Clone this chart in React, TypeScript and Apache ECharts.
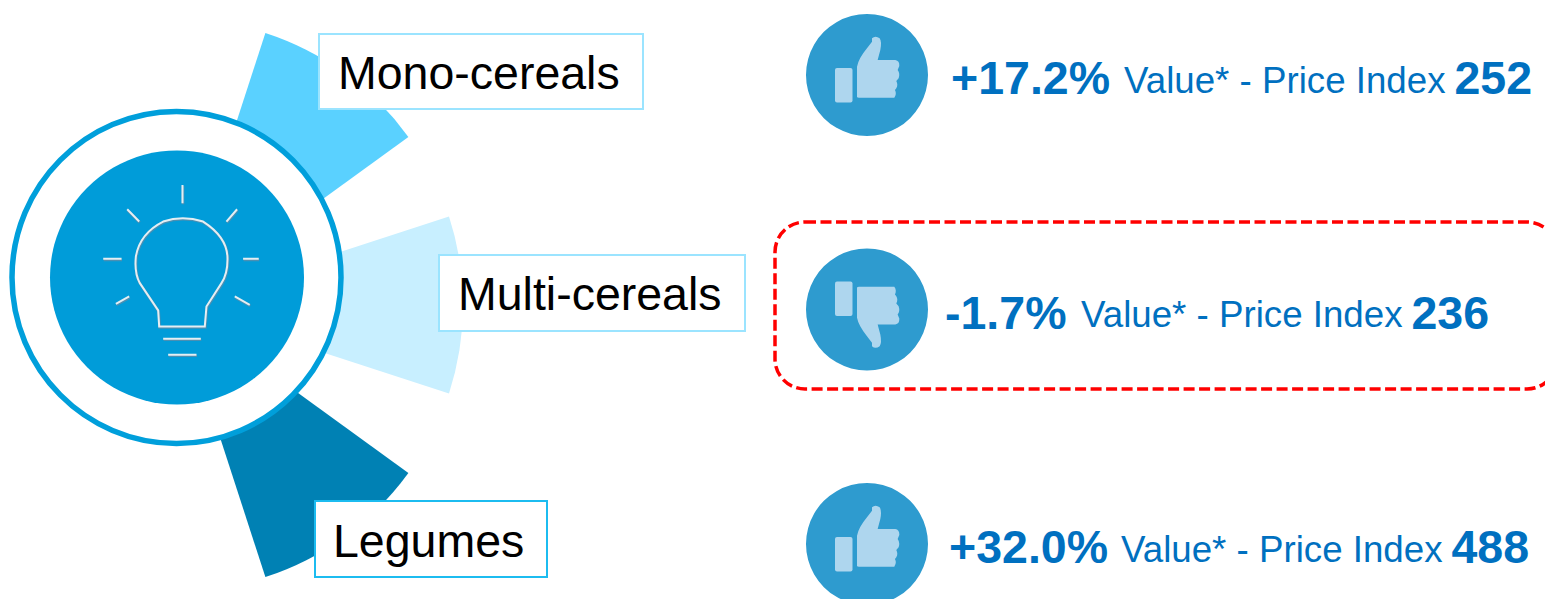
import React, { useEffect, useRef } from "react";
import * as echarts from "echarts";

const categories = ["Mono-cereals", "Multi-cereals", "Legumes"];
const sectorSpans = [36, 36, 36];
const gapSpans = [18, 18];
const changes = ["+17.2%", "-1.7%", "+32.0%"];
const priceIndices = ["252", "236", "488"];
const metricLabel = "Value* - Price Index";

const SANS = "'Liberation Sans', Arial, sans-serif";
const BLUE = "#0070c0";
const sectorColors = ["#5ad1ff", "#c8efff", "#0081b4"];

const HAND =
  "M-30 65 L-30 -25 Q-25 -50 0 -80 L15 -100 L15 -110 Q25 -120 38 -110 Q45 -100 40 -75 L32 -45 L85 -45 Q98 -43 97 -27 L92 -15 Q100 -5 95 10 L88 18 Q94 30 88 40 L84 45 Q90 57 82 68 L-24 68 Q-30 68 -30 65 Z";
const BULB =
  "M478 680 L475 632 L420 550 Q403 520 408 470 Q420 400 490 365 Q548 345 610 365 Q680 410 683 470 Q685 520 665 550 L620 620 L615 680 Z " +
  "M490 717 L603 717 M505 765 L590 765 M548 255 L548 310 M382 328 L418 365 M712 328 L680 365 " +
  "M310 477 L365 477 M730 477 L777 477 M348 612 L388 590 M705 590 L750 615";

echarts.graphic.registerShape("hand", echarts.graphic.extendPath(HAND as any, {}) as any);
echarts.graphic.registerShape("bulb", echarts.graphic.extendPath(BULB as any, {}) as any);

const labelBoxes = [
  { x: 319, y: 34, w: 324, h: 75, tx: 338, ty: 73, stroke: "#9be4ff" },
  { x: 439, y: 255, w: 306, h: 76, tx: 458, ty: 294, stroke: "#9be4ff" },
  { x: 315, y: 501, w: 232, h: 76, tx: 333, ty: 540.5, stroke: "#1cbcf0" },
];
const rows = [
  { cy: 75, flip: false, y: 78, x1: 951, x2: 1124, x3: 1454.5 },
  { cy: 309.5, flip: true, y: 312.5, x1: 945, x2: 1081, x3: 1411.5 },
  { cy: 544, flip: false, y: 547, x1: 949, x2: 1121, x3: 1451.5 },
];

function text(x: number, y: number, t: string, size: number, fill: string, bold = false) {
  return {
    type: "text",
    x,
    y,
    z: 30,
    silent: true,
    style: {
      text: t,
      fontSize: size,
      fontWeight: bold ? "bold" : "normal",
      fontFamily: SANS,
      fill,
      align: "left",
      verticalAlign: "middle",
    },
  };
}

function buildGraphics() {
  const els: any[] = [];
  // hub
  els.push({
    type: "ellipse", z: 10, silent: true,
    shape: { cx: 176.5, cy: 277.5, rx: 164.5, ry: 166 },
    style: { fill: "#ffffff", stroke: "#009fdb", lineWidth: 5.5 },
  });
  els.push({
    type: "circle", z: 11, silent: true,
    shape: { cx: 177, cy: 277.5, r: 127 },
    style: { fill: "#009cd9" },
  });
  els.push({
    type: "bulb", z: 12, silent: true, x: 0.5, y: 101, scaleX: 1 / 3, scaleY: 1 / 3,
    style: { fill: "none", stroke: "#4b8fb2", lineWidth: 8 },
  });
  els.push({
    type: "bulb", z: 13, silent: true, x: 0, y: 100, scaleX: 1 / 3, scaleY: 1 / 3,
    style: { fill: "none", stroke: "#e4eef3", lineWidth: 6 },
  });
  // category boxes
  categories.forEach((c, i) => {
    const b = labelBoxes[i];
    els.push({
      type: "rect", z: 20, silent: true,
      shape: { x: b.x, y: b.y, width: b.w, height: b.h },
      style: { fill: "#ffffff", stroke: b.stroke, lineWidth: 2 },
    });
    els.push(text(b.tx, b.ty, c, 46.5, "#000000"));
  });
  // dashed highlight
  els.push({
    type: "rect", z: 5, silent: true,
    shape: { x: 775, y: 222, width: 782, height: 167, r: 30 },
    style: { fill: "none", stroke: "#ff0000", lineWidth: 3.5, lineDash: [11, 4.5] },
  });
  // thumbs and metrics
  rows.forEach((r, i) => {
    els.push({
      type: "circle", z: 10, silent: true,
      shape: { cx: 867, cy: r.cy, r: 61 },
      style: { fill: "#2e9bcf" },
    });
    const s = r.flip ? -1 : 1;
    els.push({
      type: "rect", z: 11, silent: true,
      shape: {
        x: 835,
        y: r.flip ? r.cy - 28 : r.cy - 7,
        width: 17.5,
        height: 34.5,
        r: 2,
      },
      style: { fill: "#aed6ee" },
    });
    els.push({
      type: "hand", z: 11, silent: true, x: 867, y: r.cy, scaleX: 1 / 3, scaleY: s / 3,
      style: { fill: "#aed6ee" },
    });
    els.push(text(r.x1, r.y, changes[i], 46.5, BLUE, true));
    els.push(text(r.x2, r.y + 2, metricLabel, 36.7, BLUE));
    els.push(text(r.x3, r.y, priceIndices[i], 46.5, BLUE, true));
  });
  return els;
}

export default function App() {
  const ref = useRef<HTMLDivElement>(null);
  useEffect(() => {
    document.body.style.margin = "0";
    const chart = echarts.init(ref.current!, undefined, { renderer: "svg" });
    const pieData: any[] = [];
    const used = [...sectorSpans, ...gapSpans].reduce((a, b) => a + b, 0);
    categories.forEach((c, i) => {
      pieData.push({ name: c, value: sectorSpans[i], itemStyle: { color: sectorColors[i] } });
      if (i < gapSpans.length) {
        pieData.push({ name: "gap" + i, value: gapSpans[i], itemStyle: { color: "transparent" } });
      }
    });
    pieData.push({ name: "rest", value: 360 - used, itemStyle: { color: "transparent" } });
    chart.setOption({
      animation: false,
      backgroundColor: "#ffffff",
      series: [
        {
          type: "pie",
          silent: true,
          center: [177, 305],
          radius: [0, 286],
          startAngle: 72,
          clockwise: true,
          label: { show: false },
          labelLine: { show: false },
          itemStyle: { borderWidth: 0 },
          data: pieData,
        },
      ],
      graphic: { elements: buildGraphics() },
    });
    return () => chart.dispose();
  }, []);
  return (
    <div
      ref={ref}
      style={{ position: "absolute", left: 0, top: 0, width: 1545, height: 599, overflow: "hidden" }}
    />
  );
}
